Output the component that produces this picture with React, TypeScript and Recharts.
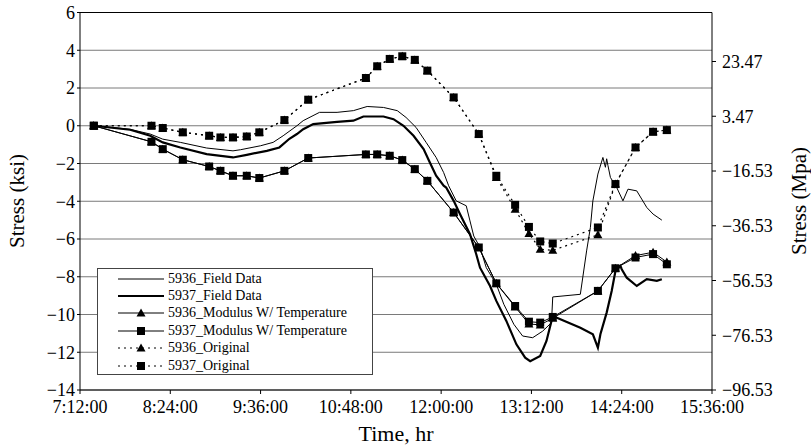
import React from 'react';
import { LineChart, Line, XAxis, YAxis, CartesianGrid, ReferenceLine } from 'recharts';

// Times are minutes after midnight; stresses in ksi
const TIME_TICKS = [432, 504, 576, 648, 720, 792, 864, 936];
const KSI_TICKS = [-14, -12, -10, -8, -6, -4, -2, 0, 2, 4, 6];
const MPA_TICKS = [-96.53, -76.53, -56.53, -36.53, -16.53, 3.47, 23.47];

// model runs (same sample times for all four)
const modelTimes = [443, 489, 498, 514, 535, 544, 554, 565, 575, 595, 614, 660, 669, 679, 689, 699, 709, 730, 750, 764, 779, 790, 799, 809, 845, 859, 875, 889, 900];
const mod5936 = [0, -0.85, -1.24, -1.8, -2.16, -2.39, -2.65, -2.65, -2.77, -2.39, -1.71, -1.52, -1.52, -1.59, -1.82, -2.3, -2.92, -4.6, -6.45, -8.35, -9.6, -10.5, -10.55, -10.2, -8.75, -7.55, -6.88, -6.7, -7.22];
const mod5937 = [0, -0.85, -1.24, -1.8, -2.16, -2.39, -2.65, -2.65, -2.77, -2.39, -1.71, -1.52, -1.52, -1.59, -1.82, -2.3, -2.92, -4.6, -6.45, -8.35, -9.55, -10.38, -10.43, -10.13, -8.75, -7.55, -6.98, -6.8, -7.34];
const orig5936 = [0, 0, -0.12, -0.35, -0.53, -0.62, -0.62, -0.57, -0.35, 0.3, 1.38, 2.53, 3.15, 3.54, 3.68, 3.49, 2.92, 1.5, -0.44, -2.74, -4.42, -5.71, -6.54, -6.6, -5.78, -3.09, -1.15, -0.32, -0.23];
const orig5937 = [0, 0, -0.12, -0.35, -0.53, -0.62, -0.62, -0.57, -0.35, 0.3, 1.38, 2.53, 3.15, 3.54, 3.68, 3.49, 2.92, 1.5, -0.44, -2.65, -4.19, -5.36, -6.13, -6.24, -5.39, -3.09, -1.15, -0.32, -0.23];

// gauge readings
const field5936Times = [443, 456, 472, 488, 498, 512, 533, 554, 560, 576, 586, 594, 605, 610, 623, 637, 650, 661, 674, 685, 692, 700, 708, 716, 722, 726, 732, 740, 743, 746, 751, 756, 764, 770, 778, 785, 793, 801, 808, 809, 831, 836, 839, 841, 845, 849, 851, 852, 853, 855, 860, 865, 869, 876, 884, 889, 896];
const field5936 = [0, -0.08, -0.19, -0.44, -0.71, -0.88, -1.18, -1.33, -1.27, -1.06, -0.88, -0.53, 0, 0.27, 0.71, 0.71, 0.8, 1.02, 0.97, 0.8, 0.44, -0.09, -0.88, -1.68, -2.48, -3.18, -3.98, -4.24, -5.04, -5.84, -6.45, -7.52, -8.4, -9.46, -10.52, -11.14, -11.23, -10.88, -10.43, -9.07, -8.93, -6.63, -5.4, -3.98, -2.56, -1.68, -2.2, -1.75, -2.1, -2.74, -3.27, -3.98, -3.36, -3.45, -4.33, -4.68, -5.0];
const field5937Times = [443, 472, 488, 498, 512, 533, 554, 565, 581, 591, 599, 605, 610, 618, 637, 650, 658, 674, 682, 690, 698, 706, 711, 716, 722, 724, 730, 735, 743, 748, 751, 759, 764, 772, 780, 787, 791, 799, 804, 808, 809, 831, 841, 845, 847, 852, 856, 859, 863, 864, 868, 876, 884, 892, 896];
const field5937 = [0, -0.21, -0.53, -0.88, -1.15, -1.5, -1.68, -1.54, -1.33, -1.15, -0.69, -0.44, -0.18, 0.09, 0.21, 0.27, 0.49, 0.49, 0.35, 0, -0.53, -1.24, -1.95, -2.65, -3.18, -3.27, -3.98, -4.68, -5.75, -6.81, -7.52, -8.49, -9.28, -10.34, -11.58, -12.29, -12.47, -12.2, -11.4, -10.34, -10.08, -10.7, -11.05, -11.76, -11.05, -9.9, -8.75, -7.7, -7.43, -7.6, -8.05, -8.49, -8.13, -8.22, -8.13];

const toRows = (times: number[], vals: number[]) => times.map((t, i) => ({ t, v: vals[i] }));

const FONT = '"Liberation Serif", "Times New Roman", serif';

const fmtTime = (m: number) => `${Math.floor(m / 60)}:${String(m % 60).padStart(2, '0')}:00`;
const fmtMinus = (s: string) => s.replace('-', '\u2212');

const SquareDot = (props: any) => {
  const { cx, cy, index } = props;
  if (cx == null || cy == null) return <g key={`s${index}`} />;
  return <rect key={`s${index}`} x={cx - 4} y={cy - 4} width={8} height={8} fill="#000" />;
};

const TriangleDot = (props: any) => {
  const { cx, cy, index } = props;
  if (cx == null || cy == null) return <g key={`t${index}`} />;
  return <polygon key={`t${index}`} points={`${cx},${cy - 4.5} ${cx + 4.5},${cy + 3.5} ${cx - 4.5},${cy + 3.5}`} fill="#000" />;
};

const legendItems = [
  { name: '5936_Field Data', width: 1, dash: undefined, marker: null },
  { name: '5937_Field Data', width: 2.2, dash: undefined, marker: null },
  { name: '5936_Modulus W/ Temperature', width: 1, dash: undefined, marker: 'tri' },
  { name: '5937_Modulus W/ Temperature', width: 1, dash: undefined, marker: 'sq' },
  { name: '5936_Original', width: 1, dash: '2 4', marker: 'tri' },
  { name: '5937_Original', width: 1, dash: '2 4', marker: 'sq' },
];

const LegendBox = () => (
  <div
    style={{
      position: 'absolute',
      left: 97,
      top: 268,
      width: 276,
      height: 107,
      background: '#fff',
      border: '1px solid #444',
      boxSizing: 'border-box',
      fontFamily: FONT,
      fontSize: 14,
    }}
  >
    {legendItems.map((it, i) => (
      <div key={it.name} style={{ position: 'absolute', left: 20, top: 1 + i * 17.4, height: 17, display: 'flex', alignItems: 'center' }}>
        <svg width={46} height={12}>
          <line x1={0} y1={6} x2={46} y2={6} stroke="#000" strokeWidth={it.width} strokeDasharray={it.dash} />
          {it.marker === 'sq' && <rect x={19} y={2} width={8} height={8} fill="#000" />}
          {it.marker === 'tri' && <polygon points="23,1.5 27.5,9.5 18.5,9.5" fill="#000" />}
        </svg>
        <span style={{ marginLeft: 4, whiteSpace: 'nowrap' }}>{it.name}</span>
      </div>
    ))}
  </div>
);

const App: React.FC = () => {
  const tickStyle = { fontFamily: FONT, fontSize: 18, fill: '#000' };
  return (
    <div style={{ position: 'absolute', left: 0, top: 0, width: 811, height: 448 }}>
      <LineChart width={811} height={448} margin={{ top: 12.5, right: 0, bottom: 0, left: 0 }}>
        <CartesianGrid horizontal vertical={false} stroke="#7a7a7a" yAxisId="left" />
        <XAxis
          dataKey="t"
          type="number"
          domain={[432, 936]}
          ticks={TIME_TICKS}
          tickFormatter={fmtTime}
          allowDataOverflow
          height={58}
          stroke="#000"
          tickSize={4}
          tickMargin={6}
          tick={tickStyle}
          label={{
            content: () => (
              <text x={396} y={433} textAnchor="middle" dominantBaseline="central" fontFamily={FONT} fontSize={22} fill="#000">
                Time, hr
              </text>
            ),
          }}
        />
        <YAxis
          yAxisId="left"
          domain={[-14, 6]}
          ticks={KSI_TICKS}
          allowDataOverflow
          width={80}
          stroke="#000"
          tickSize={3}
          tickMargin={2}
          tick={tickStyle}
          tickFormatter={(v: number) => fmtMinus(String(v))}
          label={{
            content: () => (
              <text x={17} y={201} transform="rotate(-90 17 201)" textAnchor="middle" dominantBaseline="central" fontFamily={FONT} fontSize={21} fill="#000">
                Stress (ksi)
              </text>
            ),
          }}
        />
        <YAxis
          yAxisId="right"
          orientation="right"
          domain={[-96.53, 41.37]}
          ticks={MPA_TICKS}
          allowDataOverflow
          width={99}
          stroke="#000"
          tickSize={4}
          tickMargin={6}
          tick={tickStyle}
          tickFormatter={(v: number) => fmtMinus(v.toFixed(2))}
          label={{
            content: () => (
              <text x={799} y={201} transform="rotate(-90 799 201)" textAnchor="middle" dominantBaseline="central" fontFamily={FONT} fontSize={21} fill="#000">
                Stress (Mpa)
              </text>
            ),
          }}
        />
        <ReferenceLine yAxisId="left" y={6} stroke="#000" />
        <Line yAxisId="left" data={toRows(field5936Times, field5936)} dataKey="v" type="linear" stroke="#000" strokeWidth={1} dot={false} isAnimationActive={false} />
        <Line yAxisId="left" data={toRows(field5937Times, field5937)} dataKey="v" type="linear" stroke="#000" strokeWidth={2.2} dot={false} isAnimationActive={false} />
        <Line yAxisId="left" data={toRows(modelTimes, mod5936)} dataKey="v" type="linear" stroke="#000" strokeWidth={1} dot={TriangleDot} isAnimationActive={false} />
        <Line yAxisId="left" data={toRows(modelTimes, mod5937)} dataKey="v" type="linear" stroke="#000" strokeWidth={1} dot={SquareDot} isAnimationActive={false} />
        <Line yAxisId="left" data={toRows(modelTimes, orig5936)} dataKey="v" type="linear" stroke="#000" strokeWidth={1.2} strokeDasharray="2 4" dot={TriangleDot} isAnimationActive={false} />
        <Line yAxisId="left" data={toRows(modelTimes, orig5937)} dataKey="v" type="linear" stroke="#000" strokeWidth={1.2} strokeDasharray="2 4" dot={SquareDot} isAnimationActive={false} />
      </LineChart>
      <LegendBox />
    </div>
  );
};

export default App;
